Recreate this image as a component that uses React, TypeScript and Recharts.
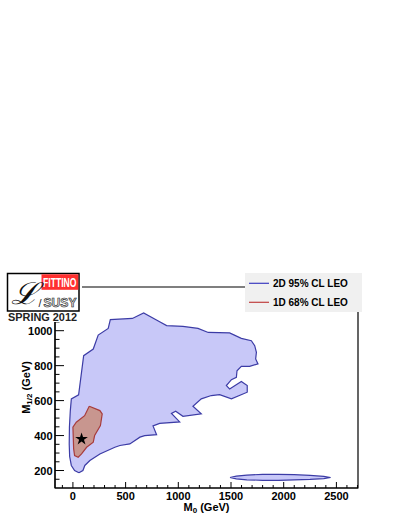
import { ScatterChart, Scatter, XAxis, YAxis, ReferenceArea, Label, Symbols } from "recharts"

const FONT = "'Liberation Sans', Arial, Helvetica, sans-serif"

// axis ranges (GeV)
const X_DOMAIN = [-170, 2705]
const Y_DOMAIN = [100, 1250]

const X_MAJOR = [0, 500, 1000, 1500, 2000, 2500]
const X_TICKS = [
  -100, 0, 100, 200, 300, 400, 500, 600, 700, 800, 900, 1000, 1100, 1200, 1300, 1400,
  1500, 1600, 1700, 1800, 1900, 2000, 2100, 2200, 2300, 2400, 2500, 2600, 2700,
]
const Y_MAJOR = [200, 400, 600, 800, 1000]
const Y_TICKS = [150, 200, 250, 300, 350, 400, 450, 500, 550, 600, 650, 700, 750, 800, 850, 900, 950, 1000, 1050, 1100, 1150, 1200]

// 2D 95% CL contour, main region  [M0, M1/2]
const CL95_MAIN = [
  [57, 187], [16, 200], [-15, 229], [-31, 280], [-35, 350], [-33, 450], [-25, 540], [-15, 610],
  [54, 633], [102, 857], [193, 895], [240, 975], [335, 1013], [355, 1063], [564, 1070], [671, 1101],
  [823, 1051], [889, 1029], [1044, 1025], [1187, 1013], [1284, 990], [1487, 987], [1598, 956],
  [1693, 943], [1725, 914], [1741, 876], [1734, 838], [1756, 810], [1677, 796], [1598, 796],
  [1557, 771], [1551, 733], [1504, 720], [1456, 686], [1487, 667], [1598, 709], [1654, 686],
  [1654, 648], [1504, 610], [1392, 634], [1313, 629], [1218, 610], [1139, 568], [1218, 524],
  [1044, 510], [975, 539], [935, 527], [1013, 478], [823, 470], [760, 455], [794, 405],
  [681, 400], [636, 391], [540, 352], [446, 343], [398, 333], [256, 295], [161, 257],
  [113, 229], [95, 200], [57, 187],
]

// 2D 95% CL contour, small island at low M1/2
const CL95_ISLAND = [
  [1490, 160], [1550, 168], [1650, 174], [1800, 178], [1950, 178], [2100, 176], [2250, 172],
  [2380, 166], [2445, 160], [2380, 154], [2250, 149], [2100, 146], [1950, 144], [1800, 144],
  [1650, 147], [1550, 152], [1490, 160],
]

// 1D 68% CL region
const CL68 = [
  [155, 568], [256, 543], [278, 524], [261, 457], [206, 400], [193, 362], [130, 333], [82, 295],
  [50, 276], [16, 286], [7, 324], [0, 448], [32, 476], [111, 514], [155, 568],
]

const BEST_FIT = [[82, 380]]

const toPts = (arr: number[][]) => arr.map(([x, y]) => ({ x, y }))

const noDot = () => <g />

const renderXTick = (props: any) => {
  const { x, y, payload } = props
  const major = X_MAJOR.includes(payload.value)
  return (
    <g>
      <line x1={x} y1={y} x2={x} y2={y - (major ? 6 : 3)} stroke="#000" strokeWidth={1} />
      {major && (
        <text x={x} y={y + 12} textAnchor="middle" fontFamily={FONT} fontWeight="bold" fontSize={11} fill="#000">
          {payload.value}
        </text>
      )}
    </g>
  )
}

const renderYTick = (props: any) => {
  const { x, y, payload } = props
  const major = Y_MAJOR.includes(payload.value)
  return (
    <g>
      <line x1={x} y1={y} x2={x + (major ? 9 : 4.5)} y2={y} stroke="#000" strokeWidth={1} />
      {major && (
        <text x={x - 2.5} y={y + 4} textAnchor="end" fontFamily={FONT} fontWeight="bold" fontSize={11} fill="#000">
          {payload.value}
        </text>
      )}
    </g>
  )
}

const XTitle = (props: any) => {
  const { x, y, width } = props.viewBox
  return (
    <text x={x + width / 2} y={y + 22.5} textAnchor="middle" fontFamily={FONT} fontWeight="bold" fontSize={11} fill="#000">
      M<tspan fontSize={8} dy={2.5}>0</tspan>
      <tspan dy={-2.5}> (GeV)</tspan>
    </text>
  )
}

const YTitle = (props: any) => {
  const { x, y, width, height } = props.viewBox
  const cx = x + width - 25.5
  const cy = y + height / 2
  return (
    <text x={cx} y={cy} transform={`rotate(-90 ${cx} ${cy})`} textAnchor="middle" fontFamily={FONT} fontWeight="bold" fontSize={11} fill="#000">
      M<tspan fontSize={8} dy={2.5}>1/2</tspan>
      <tspan dy={-2.5}> (GeV)</tspan>
    </text>
  )
}

const starShape = (p: any) => <Symbols cx={p.cx} cy={p.cy} type="star" size={50} fill="#000" />

export default function App() {
  return (
    <div style={{ position: "absolute", left: 0, top: 0, width: 407, height: 527, background: "#fff" }}>
      <ScatterChart width={407} height={527} margin={{ top: 287, right: 49, bottom: 9, left: 15 }}>
        <XAxis
          type="number"
          dataKey="x"
          domain={X_DOMAIN}
          ticks={X_TICKS}
          interval={0}
          allowDataOverflow
          tickSize={0}
          tickMargin={0}
          tickLine={false}
          axisLine={{ stroke: "#000", strokeWidth: 1.2 }}
          tick={renderXTick}
          height={30}
        >
          <Label content={XTitle} />
        </XAxis>
        <YAxis
          type="number"
          dataKey="y"
          domain={Y_DOMAIN}
          ticks={Y_TICKS}
          interval={0}
          allowDataOverflow
          tickSize={0}
          tickMargin={0}
          tickLine={false}
          axisLine={{ stroke: "#000", strokeWidth: 1.2 }}
          tick={renderYTick}
          width={40}
        >
          <Label content={YTitle} />
        </YAxis>

        <Scatter
          data={toPts(CL95_MAIN)}
          fill="#c8c8f8"
          line={{ stroke: "#3c3ca6", strokeWidth: 1.2, fill: "#c8c8f8" }}
          shape={noDot}
          isAnimationActive={false}
        />
        <Scatter
          data={toPts(CL95_ISLAND)}
          fill="#c8c8f8"
          line={{ stroke: "#3c3ca6", strokeWidth: 1.2, fill: "#c8c8f8" }}
          shape={noDot}
          isAnimationActive={false}
        />
        <Scatter
          data={toPts(CL68)}
          fill="#c8968f"
          line={{ stroke: "#a83c3c", strokeWidth: 1.2, fill: "#c8968f" }}
          shape={noDot}
          isAnimationActive={false}
        />
        <Scatter data={toPts(BEST_FIT)} fill="#000" shape={starShape} isAnimationActive={false} />

        <ReferenceArea
          x1={X_DOMAIN[0]}
          x2={X_DOMAIN[1]}
          y1={Y_DOMAIN[0]}
          y2={Y_DOMAIN[1]}
          fill="none"
          stroke="#000"
          strokeWidth={1.2}
          ifOverflow="visible"
        />
      </ScatterChart>

      {/* Fittino logo */}
      <svg width={90} height={60} style={{ position: "absolute", left: 0, top: 265 }}>
        <rect x={5} y={6} width={77} height={51} fill="#fff" />
        <rect x={7.5} y={8.5} width={71.5} height={37.5} fill="#fff" stroke="#000" strokeWidth={1.5} />
        <rect x={41.5} y={9.3} width={36.8} height={15.5} fill="#ff3030" />
        <text x={43} y={21.5} fontFamily={FONT} fontWeight="bold" fontSize={12} fill="#fff" textLength={33.5} lengthAdjust="spacingAndGlyphs">
          FITTINO
        </text>
        <text x={11} y={39} fontFamily="'DejaVu Serif', serif" fontStyle="italic" fontSize={30} fill="#111" textLength={28} lengthAdjust="spacingAndGlyphs">
          ℒ
        </text>
        <text x={38.5} y={42} fontFamily={FONT} fontSize={11} fill="#222">
          /
        </text>
        <text x={43.5} y={42} fontFamily={FONT} fontWeight="bold" fontSize={12} fill="#e4e4e4" stroke="#222" strokeWidth={0.6} textLength={33} lengthAdjust="spacingAndGlyphs">
          SUSY
        </text>
        <text x={8} y={56} fontFamily={FONT} fontWeight="bold" fontSize={10.5} fill="#222" textLength={69} lengthAdjust="spacingAndGlyphs">
          SPRING 2012
        </text>
      </svg>

      {/* Legend */}
      <svg width={117} height={39} style={{ position: "absolute", left: 245, top: 273 }}>
        <rect x={0} y={0} width={117} height={39} fill="#f0f0f0" />
        <line x1={4} y1={10.3} x2={24} y2={10.3} stroke="#3c3cc0" strokeWidth={1.2} />
        <text x={28} y={13.8} fontFamily={FONT} fontWeight="bold" fontSize={10} fill="#000">
          2D 95% CL LEO
        </text>
        <line x1={4} y1={29.3} x2={24} y2={29.3} stroke="#c04040" strokeWidth={1.2} />
        <text x={28} y={32.8} fontFamily={FONT} fontWeight="bold" fontSize={10} fill="#000">
          1D 68% CL LEO
        </text>
      </svg>
    </div>
  )
}
